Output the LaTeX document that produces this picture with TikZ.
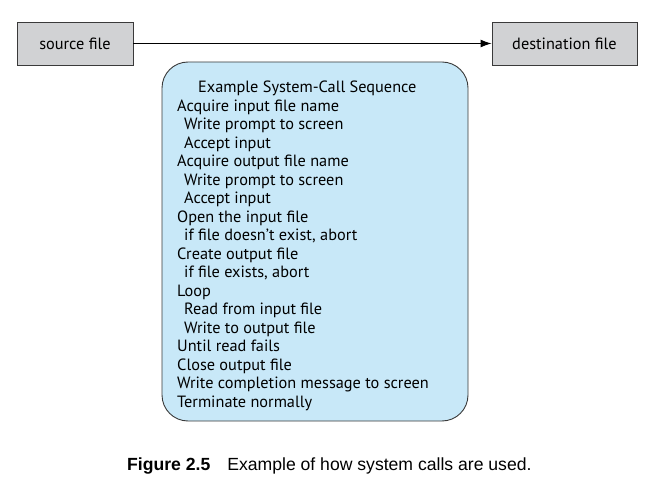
\documentclass[tikz,border=0pt]{standalone}
\usepackage{fontspec}
\setmainfont{PT Sans}
\newfontfamily\capfont{Liberation Sans}
\usetikzlibrary{arrows.meta}
\definecolor{boxgray}{HTML}{D1D2D4}
\definecolor{seqblue}{HTML}{C8E8F8}
\definecolor{edge}{HTML}{3A3A3A}
\tikzset{
  filebox/.style={draw=edge, line width=0.9pt, fill=boxgray, minimum height=43pt, inner sep=0pt, font=\fontsize{16.3}{18}\selectfont},
  seqbox/.style={draw=edge, line width=0.9pt, fill=seqblue, rounded corners=26pt},
  seqtext/.style={align=left, inner sep=0pt, anchor=north west, font=\fontsize{16.3}{18.5}\selectfont},
  capstyle/.style={inner sep=0pt, anchor=base west, font=\capfont\fontsize{17.6}{20}\selectfont}
}
\begin{document}
\begin{tikzpicture}[x=1pt,y=-1pt]
\useasboundingbox (0,0) rectangle (659,489);
\node[filebox, minimum width=116pt] (src) at (75,43.5) {source file};
\node[filebox, minimum width=145pt] (dst) at (564.5,43.5) {destination file};
\draw[line width=1pt, -{Latex[length=11pt,width=8pt]}] (src) -- (dst);
\draw[seqbox] (162,62) rectangle (468,421);
\node[seqtext] (seq) at (177,81) {%
\hspace*{21pt}Example System-Call Sequence\\
Acquire input file name\\
\hspace*{7pt}Write prompt to screen\\
\hspace*{7pt}Accept input\\
Acquire output file name\\
\hspace*{7pt}Write prompt to screen\\
\hspace*{7pt}Accept input\\
Open the input file\\
\hspace*{7pt}if file doesn't exist, abort\\
Create output file\\
\hspace*{7pt}if file exists, abort\\
Loop\\
\hspace*{7pt}Read from input file\\
\hspace*{7pt}Write to output file\\
Until read fails\\
Close output file\\
Write completion message to screen\\
Terminate normally};
\node[capstyle] (cap) at (127,470) {\textbf{Figure 2.5}\hspace{17pt}Example of how system calls are used.};
\end{tikzpicture}
\end{document}
